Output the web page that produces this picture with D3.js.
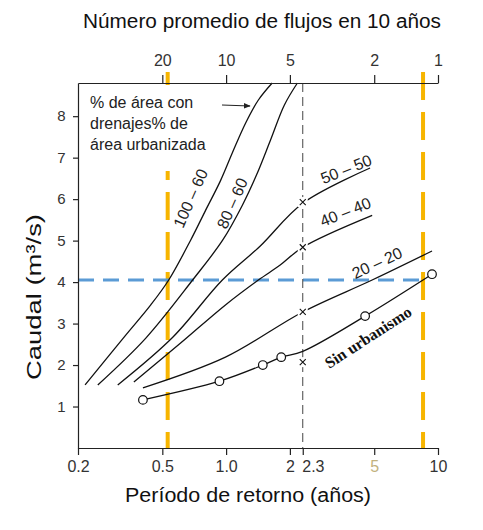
<!DOCTYPE html>
<html>
<head>
<meta charset="utf-8">
<script src="https://cdn.jsdelivr.net/npm/d3@7"></script>
<style>
  body { margin: 0; background: #fff; }
  svg { display: block; font-family: "Liberation Sans", Arial, sans-serif; }
</style>
</head>
<body>
<svg id="chart" width="483" height="530"></svg>
<script>
// period (years) vs flow (m3/s)
const bottomTicks = [0.2, 0.5, 1.0, 2, 2.3, 5, 10];
const bottomLabels = ["0.2", "0.5", "1.0", "2", "2.3", "5", "10"];
const topTicks = [20, 10, 5, 2, 1];
const yTicks = [1, 2, 3, 4, 5, 6, 7, 8];

const curve100_60 = [[0.216, 1.52], [0.336, 2.72], [0.441, 3.45], [0.536, 4.05], [0.68, 5.01],
  [0.80, 5.73], [0.94, 6.44], [1.073, 7.13], [1.235, 7.83], [1.42, 8.39], [1.65, 8.8]];
const curve80_60 = [[0.248, 1.52], [0.418, 2.65], [0.695, 4.05], [0.963, 5.01], [1.195, 5.86],
  [1.391, 6.58], [1.619, 7.42], [1.884, 8.27], [2.17, 8.8]];
const curve50_50 = [[0.308, 1.52], [0.56, 2.67], [0.96, 4.05], [1.45, 4.87], [2.3, 5.9], [4.78, 6.75]];
const curve40_40 = [[0.367, 1.59], [0.61, 2.53], [0.993, 3.45], [1.42, 4.05], [1.8, 4.41], [2.3, 4.84], [4.89, 5.61]];
const curve20_20 = [[0.405, 1.45], [0.993, 2.19], [2.3, 3.28], [4.89, 4.05], [9.37, 4.75]];
const curveRural = [[0.405, 1.16], [0.93, 1.61], [1.49, 2.0], [1.82, 2.19], [2.3, 2.33], [4.53, 3.18], [9.37, 4.19]];

const ruralObs = [[0.405, 1.16], [0.93, 1.61], [1.49, 2.0], [1.82, 2.19], [4.53, 3.18], [9.37, 4.19]];
const markT = 2.3;
const markQ = [5.93, 4.84, 3.28, 2.07];

const refQ = 4.05;
const refT = [0.53, 8.5];

const curveLabels = [
  { text: "100 – 60", t: 0.68, q: 6.02, rot: -66 },
  { text: "80 – 60", t: 1.07, q: 5.9, rot: -66 },
  { text: "50 – 50", t: 3.69, q: 6.72, rot: -22 },
  { text: "40 – 40", t: 3.66, q: 5.69, rot: -22 },
  { text: "20 – 20", t: 5.16, q: 4.46, rot: -25 }
];

const svg = d3.select("#chart");
const mLeft = 78, mRight = 438, mTop = 83, mBottom = 448;

const x = d3.scaleLog().domain([0.2, 10]).range([mLeft, mRight]);
const xTop = d3.scaleLog().domain([50, 1]).range([mLeft, mRight]);
const y = d3.scaleLinear().domain([0, 8.8]).range([mBottom, mTop]);

// reference lines
const orange = "#F7B500";
svg.selectAll(".ref-v")
  .data(refT)
  .enter().append("line")
  .attr("x1", d => x(d)).attr("x2", d => x(d))
  .attr("y1", 72).attr("y2", mBottom)
  .attr("stroke", orange).attr("stroke-width", 4)
  .attr("stroke-dasharray", "28,12");

svg.append("line")
  .attr("x1", mLeft).attr("x2", x(refT[1]) + 2)
  .attr("y1", y(refQ)).attr("y2", y(refQ))
  .attr("stroke", "#5B9BD5").attr("stroke-width", 3)
  .attr("stroke-dasharray", "16,9");

svg.append("line")
  .attr("x1", x(markT)).attr("x2", x(markT))
  .attr("y1", mTop).attr("y2", mBottom)
  .attr("stroke", "#444").attr("stroke-width", 1)
  .attr("stroke-dasharray", "9,5");

// white box behind the note
svg.append("rect")
  .attr("x", 84).attr("y", 85).attr("width", 132).attr("height", 86)
  .attr("fill", "#fff");

// curves
const line = d3.line()
  .x(d => x(d[0])).y(d => y(d[1]))
  .curve(d3.curveCatmullRom.alpha(0.5));

const curves = [curve100_60, curve80_60, curve50_50, curve40_40, curve20_20, curveRural];
svg.selectAll(".curve")
  .data(curves)
  .enter().append("path")
  .attr("d", line)
  .attr("fill", "none")
  .attr("stroke", "#111")
  .attr("stroke-width", 1.3);

// x markers at 2.3 years
const marks = svg.selectAll(".mark")
  .data(markQ)
  .enter().append("g")
  .attr("transform", d => `translate(${x(markT)},${y(d)})`);
marks.append("rect")
  .attr("x", -5).attr("y", -5).attr("width", 10).attr("height", 10)
  .attr("fill", "#fff");
marks.append("path")
  .attr("d", "M-3,-3L3,3M-3,3L3,-3")
  .attr("stroke", "#111").attr("stroke-width", 1.1);

// observed points
svg.selectAll(".obs")
  .data(ruralObs)
  .enter().append("circle")
  .attr("cx", d => x(d[0])).attr("cy", d => y(d[1]))
  .attr("r", 4.3)
  .attr("fill", "#fff")
  .attr("stroke", "#111").attr("stroke-width", 1.2);

// curve labels
svg.selectAll(".clabel")
  .data(curveLabels)
  .enter().append("text")
  .attr("transform", d => `translate(${x(d.t)},${y(d.q)}) rotate(${d.rot})`)
  .attr("text-anchor", "middle")
  .attr("dominant-baseline", "central")
  .attr("font-size", 16)
  .attr("fill", "#222")
  .text(d => d.text);

svg.append("text")
  .attr("transform", `translate(${x(4.68)},${y(2.67)}) rotate(-33)`)
  .attr("text-anchor", "middle")
  .attr("dominant-baseline", "central")
  .attr("font-family", "Liberation Serif, Times New Roman, serif")
  .attr("font-weight", "bold")
  .attr("font-size", 16)
  .attr("fill", "#111")
  .text("Sin urbanismo");

// note + arrow
const note = ["% de área con", "drenajes% de", "área urbanizada"];
svg.selectAll(".note")
  .data(note)
  .enter().append("text")
  .attr("x", 90)
  .attr("y", (d, i) => 108 + i * 21)
  .attr("font-size", 16)
  .attr("fill", "#222")
  .text(d => d);

svg.append("defs").append("marker")
  .attr("id", "arr").attr("viewBox", "0 0 10 10")
  .attr("refX", 9).attr("refY", 5)
  .attr("markerWidth", 7).attr("markerHeight", 7)
  .attr("orient", "auto")
  .append("path").attr("d", "M0,1L10,5L0,9z").attr("fill", "#222");
svg.append("line")
  .attr("x1", 222).attr("y1", 105).attr("x2", 250).attr("y2", 106)
  .attr("stroke", "#222").attr("stroke-width", 1)
  .attr("marker-end", "url(#arr)");

// axes
const gx = svg.append("g")
  .attr("transform", `translate(0,${mBottom})`)
  .call(d3.axisBottom(x).tickValues(bottomTicks)
    .tickFormat((d, i) => bottomLabels[i]).tickSize(7).tickSizeOuter(0));
gx.selectAll(".tick text")
  .attr("font-size", 16)
  .attr("dy", "0.9em")
  .attr("fill", (d) => d === 5 ? "#c2b27e" : "#333");
gx.selectAll(".tick text").filter(d => d === 2.3)
  .attr("text-anchor", "start").attr("dx", -1);

const gt = svg.append("g")
  .attr("transform", `translate(0,${mTop})`)
  .call(d3.axisTop(xTop).tickValues(topTicks)
    .tickFormat(d3.format("d")).tickSize(8).tickSizeOuter(0));
gt.selectAll(".tick text").attr("font-size", 16).attr("fill", "#333").attr("dy", "-0.35em");

const gy = svg.append("g")
  .attr("transform", `translate(${mLeft},0)`)
  .call(d3.axisLeft(y).tickValues(yTicks).tickSize(5).tickSizeOuter(0));
gy.selectAll(".tick text").attr("font-size", 15).attr("fill", "#333").attr("dx", "-0.3em");

[gx, gt, gy].forEach(g => {
  g.select(".domain").attr("stroke", "#222").attr("stroke-width", 1.2);
  g.selectAll(".tick line").attr("stroke", "#222").attr("stroke-width", 1.2);
});

// titles
svg.append("text")
  .attr("x", 262).attr("y", 28)
  .attr("text-anchor", "middle")
  .attr("font-size", 20).attr("fill", "#111")
  .attr("textLength", 358).attr("lengthAdjust", "spacingAndGlyphs")
  .text("Número promedio de flujos en 10 años");

svg.append("text")
  .attr("x", 248).attr("y", 502)
  .attr("text-anchor", "middle")
  .attr("font-size", 20).attr("fill", "#111")
  .attr("textLength", 246).attr("lengthAdjust", "spacingAndGlyphs")
  .text("Período de retorno (años)");

svg.append("text")
  .attr("transform", "translate(41,297) rotate(-90)")
  .attr("text-anchor", "middle")
  .attr("font-size", 20).attr("fill", "#111")
  .attr("textLength", 166).attr("lengthAdjust", "spacingAndGlyphs")
  .text("Caudal (m³/s)");
</script>
</body>
</html>
